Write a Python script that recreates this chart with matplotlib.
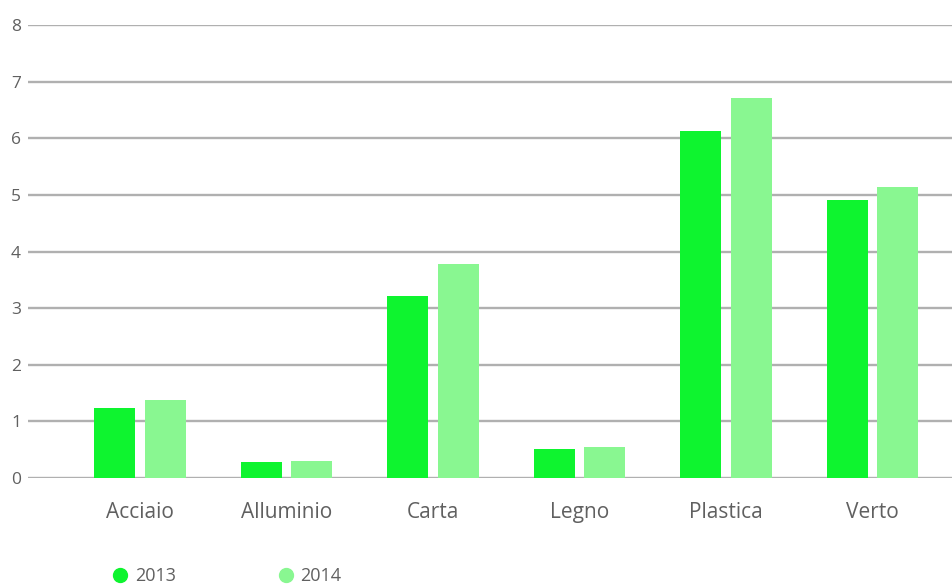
import matplotlib
matplotlib.use('Agg')
import matplotlib.pyplot as plt
from matplotlib.lines import Line2D
import numpy as np

categories = ['Acciaio', 'Alluminio', 'Carta', 'Legno', 'Plastica', 'Verto']
values_2013 = [1.24, 0.28, 3.22, 0.51, 6.13, 4.91]
values_2014 = [1.38, 0.30, 3.78, 0.55, 6.71, 5.14]
series_names = ['2013', '2014']
y_ticks = [0, 1, 2, 3, 4, 5, 6, 7, 8]

COL_2013 = '#0ef42f'
COL_2014 = '#89f791'
TEXT = '#606060'
GRID = '#b0b0b0'

plt.rcParams['font.family'] = ['Open Sans', 'DejaVu Sans']

W, H = 952, 586
fig = plt.figure(figsize=(W / 100, H / 100), dpi=100)
ax = fig.add_axes([28 / W, (H - 478) / H, (W - 28) / W, (478 - 25) / H])

x = np.arange(len(categories))
bw = 0.28
off = 0.172
ax.bar(x - off, values_2013, width=bw, color=COL_2013, zorder=3)
ax.bar(x + off, values_2014, width=bw, color=COL_2014, zorder=3)

ax.set_xlim(-0.765, 5.543)
ax.set_ylim(0, 8)
ax.set_yticks(y_ticks)
ax.set_yticklabels([str(t) for t in y_ticks], fontsize=12.5, color=TEXT)
ax.set_xticks(x)
ax.set_xticklabels(categories, fontsize=15, color=TEXT)
ax.tick_params(axis='both', length=0)
ax.tick_params(axis='y', pad=5)
ax.tick_params(axis='x', pad=17)
ax.yaxis.grid(True, color=GRID, linewidth=1.7, zorder=0)
for s in ax.spines.values():
    s.set_visible(False)

handles = [Line2D([], [], marker='o', linestyle='none', markersize=10,
                  color=c) for c in (COL_2013, COL_2014)]
leg = fig.legend(handles, series_names, loc='center left',
                 bbox_to_anchor=(95 / W, (H - 576) / H), ncol=2,
                 frameon=False, fontsize=13, handletextpad=0.3,
                 columnspacing=5.6, labelcolor=TEXT, handlelength=1.0)

fig.savefig('out.png', dpi=100)
